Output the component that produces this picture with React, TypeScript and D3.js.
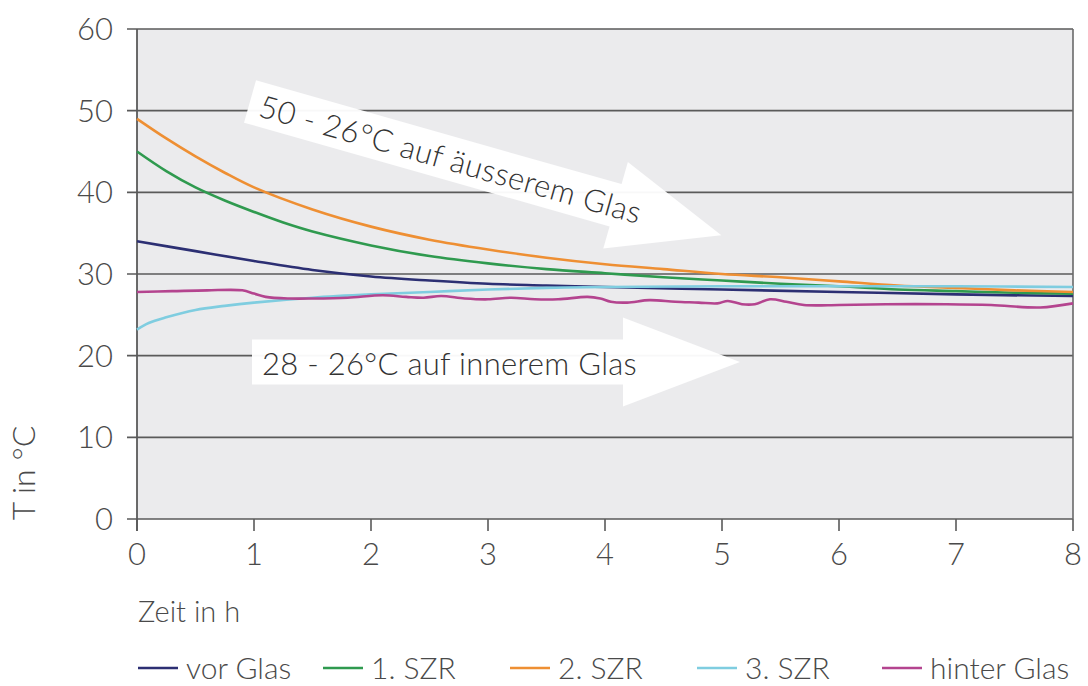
import React from "react";
import * as d3 from "d3";

const yTicks = [0, 10, 20, 30, 40, 50, 60];
const xTicks = [0, 1, 2, 3, 4, 5, 6, 7, 8];

const seriesNames = ["vor Glas", "1. SZR", "2. SZR", "3. SZR", "hinter Glas"];
const seriesColors = ["#2c2f73", "#2f9a4f", "#ee8f33", "#7fcde0", "#b4448f"];

const vorGlas: [number, number][] = [
  [0, 34.0], [0.5, 32.8], [1, 31.6], [1.5, 30.5], [2, 29.7], [2.5, 29.2], [3, 28.8],
  [3.5, 28.6], [4, 28.4], [5, 28.1], [6, 27.8], [7, 27.5], [8, 27.3],
];
const szr1: [number, number][] = [
  [0, 45.0], [0.25, 42.6], [0.5, 40.6], [0.75, 39.0], [1, 37.6], [1.25, 36.3], [1.5, 35.2],
  [2, 33.5], [2.5, 32.2], [3, 31.3], [3.5, 30.6], [4, 30.1], [4.5, 29.6], [5, 29.2],
  [5.5, 28.8], [6, 28.5], [6.5, 28.1], [7, 27.9], [7.5, 27.7], [8, 27.6],
];
const szr2: [number, number][] = [
  [0, 49.0], [0.25, 46.6], [0.5, 44.4], [0.75, 42.4], [1, 40.6], [1.5, 37.9], [2, 35.8],
  [2.5, 34.2], [3, 33.0], [3.5, 32.0], [4, 31.2], [4.5, 30.6], [5, 30.0], [5.5, 29.6],
  [6, 29.1], [6.5, 28.6], [7, 28.3], [7.5, 28.0], [8, 27.8],
];
const szr3: [number, number][] = [
  [0, 23.2], [0.1, 24.0], [0.25, 24.7], [0.5, 25.6], [0.75, 26.1], [1, 26.5], [1.5, 27.1],
  [2, 27.5], [2.5, 27.8], [3, 28.1], [3.5, 28.3], [4, 28.4], [5, 28.5], [6, 28.5],
  [7, 28.5], [8, 28.4],
];
const hinterGlas: [number, number][] = [
  [0, 27.8], [0.3, 27.9], [0.6, 28.0], [0.9, 28.0], [1.0, 27.6], [1.1, 27.2], [1.3, 27.0],
  [1.5, 27.0], [1.8, 27.1], [2.1, 27.4], [2.3, 27.2], [2.45, 27.1], [2.6, 27.3], [2.8, 27.0],
  [3.0, 26.9], [3.2, 27.1], [3.4, 26.9], [3.6, 26.9], [3.85, 27.2], [3.96, 27.0], [4.05, 26.6],
  [4.19, 26.5], [4.38, 26.8], [4.6, 26.6], [4.8, 26.5], [4.96, 26.4], [5.05, 26.7], [5.17, 26.3],
  [5.28, 26.3], [5.41, 26.9], [5.55, 26.6], [5.7, 26.2], [6.0, 26.2], [6.4, 26.3], [6.92, 26.3],
  [7.3, 26.2], [7.72, 25.9], [8, 26.4],
];
const seriesData = [vorGlas, szr1, szr2, szr3, hinterGlas];

const arrowLabels = ["50 - 26°C auf äusserem Glas", "28 - 26°C auf innerem Glas"];
const xTitle = "Zeit in h";
const yTitle = "T in °C";

const W = 1088;
const H = 686;
const FONT = "Lato, 'Open Sans', 'DejaVu Sans', sans-serif";
const TEXT = "#4a4a4a";

function arrowPath(bodyHalf: number, headHalf: number, length: number, headLen: number) {
  const hb = length - headLen;
  const p = d3.path();
  p.moveTo(0, -bodyHalf);
  p.lineTo(hb, -bodyHalf);
  p.lineTo(hb, -headHalf);
  p.lineTo(length, 0);
  p.lineTo(hb, headHalf);
  p.lineTo(hb, bodyHalf);
  p.lineTo(0, bodyHalf);
  p.closePath();
  return p.toString();
}

export default function App() {
  const x = d3.scaleLinear().domain([0, 8]).range([137, 1073]);
  const y = d3.scaleLinear().domain([0, 60]).range([519, 29]);
  const line = d3
    .line<[number, number]>()
    .x((d) => x(d[0]))
    .y((d) => y(d[1]))
    .curve(d3.curveCatmullRom.alpha(0.5));

  const legendX = [138, 323, 510, 697, 882];

  return (
    <svg
      width={W}
      height={H}
      style={{ position: "absolute", left: 0, top: 0, background: "#fff" }}
      fontFamily={FONT}
    >
      <rect x={x(0)} y={y(60)} width={x(8) - x(0)} height={y(0) - y(60)} fill="#ebebed" />
      {yTicks.map((t) => (
        <line key={"g" + t} x1={x(0) - 10} x2={x(8)} y1={y(t)} y2={y(t)} stroke="#5a5a5a" strokeWidth={1.6} />
      ))}
      {yTicks.map((t) => (
        <text key={"yl" + t} x={113} y={y(t)} dy="0.36em" textAnchor="end" fontSize={31} fontWeight={300} fill={TEXT}>
          {t}
        </text>
      ))}
      {xTicks.map((t) => (
        <g key={"x" + t}>
          <line x1={x(t)} x2={x(t)} y1={y(0)} y2={y(0) + 12} stroke="#5a5a5a" strokeWidth={1.6} />
          <text x={x(t)} y={565} textAnchor="middle" fontSize={31} fontWeight={300} fill={TEXT}>
            {t}
          </text>
        </g>
      ))}
      <line x1={x(0)} x2={x(0)} y1={y(60)} y2={y(0) + 12} stroke="#5a5a5a" strokeWidth={1.8} />
      <line x1={x(8)} x2={x(8)} y1={y(60)} y2={y(0)} stroke="#6a6a6a" strokeWidth={1.6} />

      {/* arrows */}
      <g transform="translate(250,101.5) rotate(15.85)">
        <path d={arrowPath(22, 45, 490, 110)} fill="#fff" fillOpacity={0.96} />
        <text x={11} y={12} fontSize={31} fontWeight={300} fill="#333" letterSpacing={0.4}>
          {arrowLabels[0]}
        </text>
      </g>
      <g transform="translate(252,362)">
        <path d={arrowPath(22.5, 44.5, 488, 117)} fill="#fff" fillOpacity={0.96} />
        <text x={10} y={13} fontSize={31} fontWeight={300} fill="#333" letterSpacing={0.3}>
          {arrowLabels[1]}
        </text>
      </g>

      {seriesData.map((s, i) => (
        <path key={"s" + i} d={line(s) || ""} fill="none" stroke={seriesColors[i]} strokeWidth={2.6} />
      ))}

      <text x={138} y={622} fontSize={29} fontWeight={300} fill={TEXT}>
        {xTitle}
      </text>
      <text transform="translate(35,473) rotate(-90)" textAnchor="middle" fontSize={32} fontWeight={300} fill={TEXT}>
        {yTitle}
      </text>

      {seriesNames.map((n, i) => (
        <g key={"lg" + i} transform={`translate(${legendX[i]},0)`}>
          <line x1={0} x2={40} y1={668} y2={668} stroke={seriesColors[i]} strokeWidth={2.6} />
          <text x={48} y={679} fontSize={30} fontWeight={300} fill={TEXT}>
            {n}
          </text>
        </g>
      ))}
    </svg>
  );
}
